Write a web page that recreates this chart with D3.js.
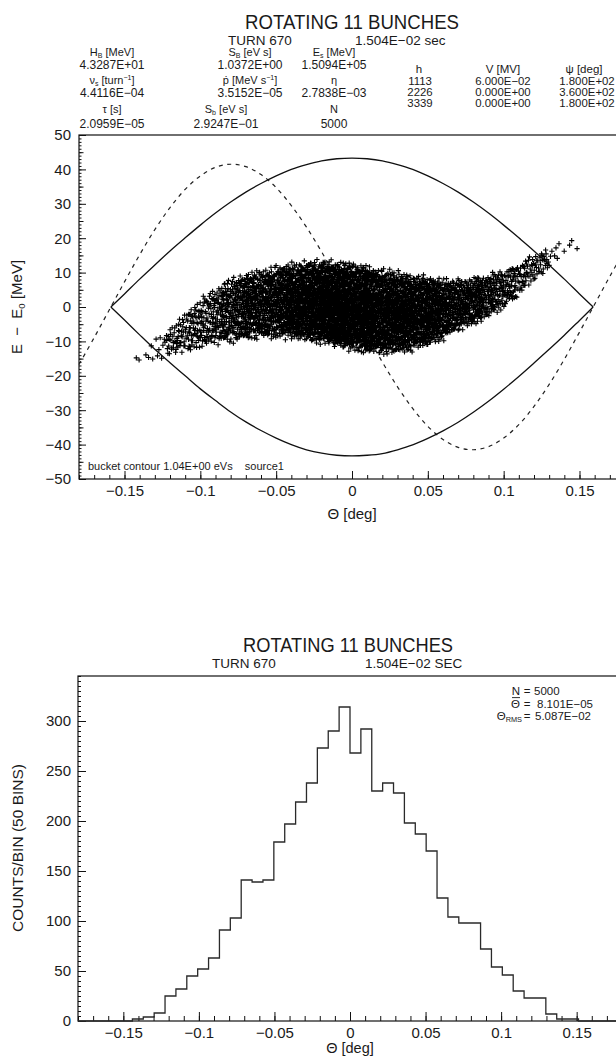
<!DOCTYPE html>
<html>
<head>
<meta charset="utf-8">
<script src="https://cdn.jsdelivr.net/npm/d3@7"></script>
<style>
  body { margin: 0; background: #fff; }
  text { font-family: "Liberation Sans", Arial, sans-serif; fill: #1a1a1a; }
</style>
</head>
<body>
<script>
// ---------------- values ----------------
const titleText = "ROTATING 11 BUNCHES";
const turnText = "TURN 670";
const timeTop = "1.504E\u221202 sec";
const timeBottom = "1.504E\u221202 SEC";

// parameter block (3 rows x 3 columns)
const paramLabels = ["H_{B} [MeV]", "S_{B} [eV s]", "E_{s} [MeV]",
                     "\u03bd_{s} [turn^{\u22121}]", "\u1e57 [MeV s^{\u22121}]", "\u03b7",
                     "\u03c4 [s]", "S_{b} [eV s]", "N"];
const paramValues = ["4.3287E+01", "1.0372E+00", "1.5094E+05",
                     "4.4116E\u221204", "3.5152E\u221205", "2.7838E\u221203",
                     "2.0959E\u221205", "2.9247E\u221201", "5000"];
// RF harmonics table
const harmH = ["1113", "2226", "3339"];
const harmV = ["6.000E\u221202", "0.000E+00", "0.000E+00"];
const harmPsi = ["1.800E+02", "3.600E+02", "1.800E+02"];

// top plot: bucket separatrix (upper / lower branch)
const sepTheta = [-0.159, -0.15, -0.14, -0.13, -0.12, -0.11, -0.10, -0.09, -0.08, -0.07, -0.06,
                  -0.05, -0.04, -0.03, -0.02, -0.01, 0, 0.01, 0.02, 0.03, 0.04, 0.05, 0.06,
                  0.07, 0.08, 0.09, 0.10, 0.11, 0.12, 0.13, 0.14, 0.15, 0.159];
const sepUpper = [0, 3.8, 8.1, 12.2, 16.3, 20.1, 23.8, 27.3, 30.5, 33.4, 35.9, 38.1, 40.0, 41.4,
                  42.5, 43.1, 43.3, 43.1, 42.5, 41.4, 40.0, 38.1, 35.9, 33.4, 30.5, 27.3, 23.8,
                  20.1, 16.3, 12.2, 8.1, 3.8, 0];
const sepLower = [0, -3.8, -8.1, -12.3, -16.2, -20.0, -23.8, -27.2, -30.5, -33.4, -35.9, -38.1,
                  -40.0, -41.5, -42.5, -43.1, -43.3, -43.1, -42.6, -41.5, -40.1, -38.2, -36.0,
                  -33.5, -30.6, -27.4, -23.9, -20.2, -16.3, -12.3, -8.2, -3.9, 0];

// top plot: dashed RF waveform
const rfTheta = [-0.18, -0.17, -0.16, -0.15, -0.14, -0.13, -0.12, -0.11, -0.10, -0.09, -0.08,
                 -0.07, -0.06, -0.05, -0.04, -0.03, -0.02, -0.01, 0, 0.01, 0.02, 0.03, 0.04,
                 0.05, 0.06, 0.07, 0.08, 0.09, 0.10, 0.11, 0.12, 0.13, 0.14, 0.15, 0.16, 0.17, 0.18];
const rfE = [-16.7, -8.9, -0.8, 7.3, 15.2, 22.5, 28.9, 34.2, 38.1, 40.6, 41.5, 40.8, 38.5, 34.7,
             29.5, 23.2, 16.0, 8.1, 0, -8.1, -16.0, -23.2, -29.5, -34.7, -38.5, -40.8, -41.5,
             -40.6, -38.1, -34.2, -28.9, -22.5, -15.2, -7.3, 0.8, 8.9, 16.7];

// top plot: lower / upper edge of the particle cloud
const cloudTheta = [-0.145, -0.14, -0.13, -0.12, -0.11, -0.10, -0.09, -0.08, -0.07, -0.06, -0.05,
                    -0.04, -0.03, -0.02, -0.01, 0, 0.01, 0.02, 0.03, 0.04, 0.05, 0.06, 0.07, 0.08,
                    0.09, 0.10, 0.11, 0.12, 0.13, 0.14, 0.15];
const cloudLow = [-18.5, -17, -15.5, -13.8, -12.6, -11.6, -10.4, -9.3, -8.6, -8.2, -8.0, -8.2,
                  -8.6, -9.3, -10.3, -11.3, -12, -12.4, -12.2, -11.6, -10.6, -8.5, -6.3, -4.6,
                  -2.6, 0, 3.6, 7.6, 11.3, 15, 17.5];
const cloudHigh = [-15, -12, -9, -6, -2.2, 2, 5, 7.5, 8.8, 9.9, 10.9, 11.6, 12.1, 12.3, 12, 11.4,
                   10.6, 9.8, 9, 8.3, 7.7, 7.4, 7.4, 7.9, 8.9, 10.4, 12.4, 14.8, 17.3, 19, 19.5];

// bottom plot: counts per bin, 50 bins over the axis range
const histRange = [-0.18, 0.18];
const histCounts = [0, 0, 0, 0, 0, 2, 4, 8, 25, 32,
                    45, 52, 63, 91, 103, 141, 139, 141, 179, 197,
                    219, 238, 273, 290, 314, 268, 292, 230, 238, 228,
                    198, 187, 170, 123, 104, 98, 98, 72, 54, 46,
                    30, 23, 23, 7, 2, 2, 0, 0, 0, 0];

const thetaTicks = [-0.15, -0.1, -0.05, 0, 0.05, 0.1, 0.15];
const energyTicks = [-50, -40, -30, -20, -10, 0, 10, 20, 30, 40, 50];
const countTicks = [0, 50, 100, 150, 200, 250, 300];
const bucketNote = "bucket contour 1.04E+00 eVs\u00a0\u00a0\u00a0\u00a0source1";
const statN = "5000", statMean = "8.101E\u221205", statRms = "5.087E\u221202";

// ---------------- drawing ----------------
const svg = d3.select("body").append("svg")
  .attr("width", 616).attr("height", 1059).style("display", "block");

// text with _{sub} and ^{sup}
function rich(t, str, fs) {
  let shift = 0;
  str.split(/(_\{[^}]*\}|\^\{[^}]*\})/).filter(s => s).forEach(s => {
    let d = 0, txt = s, small = false;
    if (s[0] === "_") { d = fs * 0.2; txt = s.slice(2, -1); small = true; }
    else if (s[0] === "^") { d = -fs * 0.36; txt = s.slice(2, -1); small = true; }
    const ts = t.append("tspan").attr("dy", d - shift).text(txt);
    if (small) ts.attr("font-size", fs * 0.64);
    shift = d;
  });
  if (shift) t.append("tspan").attr("dy", -shift).text("");
}
function label(x, y, str, fs, anchor) {
  const t = svg.append("text").attr("x", x).attr("y", y)
    .attr("font-size", fs).attr("text-anchor", anchor || "middle");
  rich(t, str, fs);
  return t;
}

// ---- header of the top plot
svg.append("text").attr("x", 352).attr("y", 29).attr("text-anchor", "middle")
  .attr("font-size", 20.5).attr("textLength", 214).attr("lengthAdjust", "spacingAndGlyphs")
  .text(titleText);
label(228, 44.5, turnText, 13.5, "start");
label(355, 44.5, timeTop, 13.5, "start");

const colX = [112, 250, 334];
const labY = [55.5, 84, 113], valY = [69, 97, 128];
paramLabels.forEach((s, i) => {
  const r = Math.floor(i / 3), c = i % 3;
  const x = (r === 2 && c === 1) ? 226 : colX[c];
  label(x, labY[r], s, 11);
  label(x, valY[r], paramValues[i], 12);
});
label(419, 73, "h", 11.5);
label(503, 73, "V [MV]", 11.5);
label(584, 73, "\u03c8 [deg]", 11.5);
harmH.forEach((h, i) => {
  const y = 84.5 + i * 11.4;
  label(420, y, h, 11.4);
  label(503, y, harmV[i], 11.4);
  label(587, y, harmPsi[i], 11.4);
});

// ---- top plot
const xT = d3.scaleLinear().domain([-0.18, 0.18]).range([79, 625]);
const yT = d3.scaleLinear().domain([-50, 50]).range([479, 135]);
const gT = svg.append("g").attr("color", "#111");

const fmtTheta = d3.format("~g");
function thetaAxis(g, x, y0, minLen, majLen) {
  g.append("g").attr("transform", `translate(0,${y0})`)
    .call(d3.axisBottom(x).tickValues(d3.range(-18, 19).map(i => i / 100))
      .tickSize(-minLen).tickFormat(""))
    .call(a => a.select(".domain").remove());
  g.append("g").attr("transform", `translate(0,${y0})`)
    .call(d3.axisBottom(x).tickValues(thetaTicks).tickSize(-majLen).tickPadding(6)
      .tickFormat(fmtTheta))
    .call(a => a.select(".domain").remove())
    .attr("font-size", 15);
}
thetaAxis(gT, xT, 479, 4, 8);

gT.append("g").attr("transform", "translate(79,0)")
  .call(d3.axisLeft(yT).tickValues(d3.range(-50, 51, 1)).tickSize(-2.5).tickFormat(""))
  .call(a => a.select(".domain").remove());
gT.append("g").attr("transform", "translate(79,0)")
  .call(d3.axisLeft(yT).tickValues(d3.range(-45, 50, 10)).tickSize(-4.5).tickFormat(""))
  .call(a => a.select(".domain").remove());
gT.append("g").attr("transform", "translate(79,0)")
  .call(d3.axisLeft(yT).tickValues(energyTicks).tickSize(-7).tickPadding(8)
    .tickFormat(d3.format("d")))
  .call(a => a.select(".domain").remove())
  .attr("font-size", 15);

gT.append("rect").attr("x", 79).attr("y", 135).attr("width", 546).attr("height", 344)
  .attr("fill", "none").attr("stroke", "#111").attr("stroke-width", 1.2);

const lineT = d3.line().x(d => xT(d[0])).y(d => yT(d[1]));
gT.append("path").datum(rfTheta.map((t, i) => [t, rfE[i]]))
  .attr("d", lineT.curve(d3.curveCatmullRom))
  .attr("fill", "none").attr("stroke", "#222").attr("stroke-width", 1.2)
  .attr("stroke-dasharray", "4,4.5");
[sepUpper, sepLower].forEach(arr => {
  gT.append("path").datum(sepTheta.map((t, i) => [t, arr[i]]))
    .attr("d", lineT.curve(d3.curveMonotoneX))
    .attr("fill", "none").attr("stroke", "#111").attr("stroke-width", 1.3);
});

// particles: per theta bin the count from the histogram, spread between the cloud edges
// (positions inside a bin follow a Halton sequence, so nothing is random)
function halton(i, b) {
  let f = 1, r = 0;
  while (i > 0) { f /= b; r += f * (i % b); i = Math.floor(i / b); }
  return r;
}
const lowAt = d3.scaleLinear().domain(cloudTheta).range(cloudLow).clamp(true);
const highAt = d3.scaleLinear().domain(cloudTheta).range(cloudHigh).clamp(true);
const binW = (histRange[1] - histRange[0]) / histCounts.length;
let pts = "", j = 0;
histCounts.forEach((n, k) => {
  for (let i = 0; i < n; i++) {
    j++;
    const u = halton(j, 2), v = halton(j, 3), s = halton(j, 5);
    const th = histRange[0] + (k + u) * binW;
    const lo = lowAt(th), hi = highAt(th);
    const e = (lo + hi) / 2 + (hi - lo) / 2 * (2 * v - 1) * (0.84 + 0.34 * s);
    const px = xT(th), py = yT(e);
    pts += `M${(px - 2.6).toFixed(1)},${py.toFixed(1)}h5.2M${px.toFixed(1)},${(py - 2.6).toFixed(1)}v5.2`;
  }
});
gT.append("path").attr("d", pts).attr("stroke", "#000").attr("stroke-width", 1.1).attr("fill", "none");

gT.append("text").attr("x", 88).attr("y", 470).attr("font-size", 11).text(bucketNote);
gT.append("text").attr("x", 352).attr("y", 519).attr("text-anchor", "middle")
  .attr("font-size", 15).text("\u0398 [deg]");
label(22, 307, "E\u00a0\u00a0\u2212\u00a0\u00a0E_{0} [MeV]", 15)
  .attr("transform", "rotate(-90,22,307)");

// ---- bottom plot
svg.append("text").attr("x", 348).attr("y", 652).attr("text-anchor", "middle")
  .attr("font-size", 20.5).attr("textLength", 210).attr("lengthAdjust", "spacingAndGlyphs")
  .text(titleText);
label(212, 668, turnText, 13.5, "start");
label(365, 668, timeBottom, 13.5, "start");

const xB = d3.scaleLinear().domain(histRange).range([78, 622]);
const yB = d3.scaleLinear().domain([0, 345]).range([1021, 676]);
const gB = svg.append("g").attr("color", "#111");
thetaAxis(gB, xB, 1021, 5, 9);
gB.append("g").attr("transform", "translate(78,0)")
  .call(d3.axisLeft(yB).tickValues(d3.range(0, 346, 5)).tickSize(-3).tickFormat(""))
  .call(a => a.select(".domain").remove());
gB.append("g").attr("transform", "translate(78,0)")
  .call(d3.axisLeft(yB).tickValues(countTicks).tickSize(-8).tickPadding(7)
    .tickFormat(d3.format("d")))
  .call(a => a.select(".domain").remove())
  .attr("font-size", 15);
gB.append("rect").attr("x", 78).attr("y", 676).attr("width", 544).attr("height", 345)
  .attr("fill", "none").attr("stroke", "#111").attr("stroke-width", 1.2);

const histPts = histCounts.map((c, k) => [histRange[0] + k * binW, c]);
histPts.push([histRange[1], histCounts[histCounts.length - 1]]);
gB.append("path").datum(histPts)
  .attr("d", d3.line().x(d => xB(d[0])).y(d => yB(d[1])).curve(d3.curveStepAfter))
  .attr("fill", "none").attr("stroke", "#2a2a2a").attr("stroke-width", 1.3);

// statistics box
label(520, 695, "N", 11.5, "end");
label(520, 707.5, "\u0398", 11.5, "end");
gB.append("line").attr("x1", 512).attr("x2", 520).attr("y1", 697.6).attr("y2", 697.6)
  .attr("stroke", "#1a1a1a").attr("stroke-width", 0.9);
label(522, 719.5, "\u0398_{RMS}", 11.5, "end");
[695, 707.5, 719.5].forEach(y => label(527, y, "=", 11.5));
label(534, 695, statN, 11.5, "start");
label(537, 707.5, statMean, 11.5, "start");
label(535, 719.5, statRms, 11.5, "start");

gB.append("text").attr("x", 350).attr("y", 1053).attr("text-anchor", "middle")
  .attr("font-size", 14.5).text("\u0398 [deg]");
svg.append("text").attr("x", 23).attr("y", 848).attr("text-anchor", "middle")
  .attr("font-size", 15.5).attr("transform", "rotate(-90,23,848)")
  .text("COUNTS/BIN (50 BINS)");
</script>
</body>
</html>
